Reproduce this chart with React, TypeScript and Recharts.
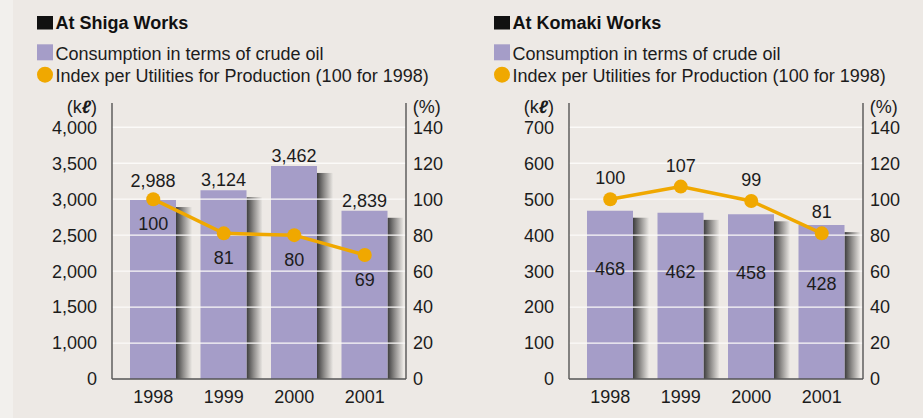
import React from 'react';
import { ComposedChart, Bar, Line, XAxis, YAxis, ReferenceLine, LabelList } from 'recharts';

// ---------- data ----------
const years = ['1998', '1999', '2000', '2001'];
const shigaConsumption = [2988, 3124, 3462, 2839];
const shigaIndex = [100, 81, 80, 69];
const komakiConsumption = [468, 462, 458, 428];
const komakiIndex = [100, 107, 99, 81];

const shigaLeftTicks = [500, 1000, 1500, 2000, 2500, 3000, 3500, 4000];
const shigaLeftTickLabels = ['0', '1,000', '1,500', '2,000', '2,500', '3,000', '3,500', '4,000'];
const komakiLeftTicks = [0, 100, 200, 300, 400, 500, 600, 700];
const komakiLeftTickLabels = ['0', '100', '200', '300', '400', '500', '600', '700'];
const rightTicks = [0, 20, 40, 60, 80, 100, 120, 140];
const rightTickLabels = ['0', '20', '40', '60', '80', '100', '120', '140'];

// ---------- style ----------
const FONT = '"Liberation Sans", Arial, Helvetica, sans-serif';
const BG = '#EDE9E5';
const BAR = '#A59DC8';
const ORANGE = '#F0A800';
const AXIS = '#555555';
const TEXT = '#1c1c1c';
const W = 457;
const H = 418;
const M_TOP = 103;
const X_H = 39;
const PLOT_H = H - M_TOP - X_H;
const RIGHT_MAX = 153.5;

const fmt = (v: number) => v.toLocaleString('en-US');

const makeShadow = (gid: string) => (props: any) => {
  const { x, y, width, height } = props;
  if (!height || height < 8) return <g />;
  return (
    <g>
      <defs>
        <linearGradient id={gid} x1="0" y1="0" x2="1" y2="0">
          <stop offset="0" stopColor="#3c3c3c" />
          <stop offset="0.45" stopColor="#8e8c8a" />
          <stop offset="1" stopColor="#ebe8e4" />
        </linearGradient>
      </defs>
      <rect x={x + width} y={y + 7} width={16} height={height - 7} fill={`url(#${gid})`} />
    </g>
  );
};

// bar value label above bar, lifted when it would collide with the line marker
const makeTopLabel = (lineVals: number[]) => (props: any) => {
  const vb = props.viewBox || props;
  const x = vb.x ?? props.x;
  const y = vb.y ?? props.y;
  const width = vb.width ?? props.width;
  const idx = props.index;
  const pointY = M_TOP + PLOT_H * (1 - lineVals[idx] / RIGHT_MAX);
  let base = y - 4;
  if (Math.abs(pointY - y) < 12) base = Math.min(base, pointY - 12);
  return (
    <text x={x + width / 2} y={base} textAnchor="middle" fontSize={18} fontFamily={FONT} fill={TEXT}>
      {fmt(Number(props.value))}
    </text>
  );
};

type PanelProps = {
  title: string;
  consumption: number[];
  index: number[];
  leftTicks: number[];
  leftTickLabels: string[];
  leftDomain: [number, number];
  gid: string;
  barLabelInside: boolean;
  lineLabelPos: 'top' | 'bottom';
  lineLabelOffset: number;
};

function Panel(p: PanelProps) {
  const data = years.map((y, i) => ({ year: y, consumption: p.consumption[i], index: p.index[i] }));
  const leftFmt = (v: number) => {
    const i = p.leftTicks.indexOf(v);
    return i >= 0 ? p.leftTickLabels[i] : String(v);
  };
  const rightFmt = (v: number) => {
    const i = rightTicks.indexOf(v);
    return i >= 0 ? rightTickLabels[i] : String(v);
  };
  const tickStyle = { fontSize: 18, fontFamily: FONT, fill: TEXT };
  return (
    <div style={{ position: 'absolute', top: 0, width: W, height: H }}>
      <ComposedChart width={W} height={H} data={data} margin={{ top: M_TOP, right: 0, bottom: 0, left: 0 }}>
        <XAxis
          xAxisId="main"
          dataKey="year"
          height={X_H}
          padding={{ left: 6, right: 6 }}
          tickLine={false}
          tickSize={0}
          tickMargin={11.5}
          axisLine={{ stroke: AXIS, strokeWidth: 1.4 }}
          tick={tickStyle}
          interval={0}
        />
        <XAxis xAxisId="shadow" dataKey="year" hide padding={{ left: 6, right: 6 }} />
        <YAxis
          yAxisId="left"
          orientation="left"
          width={112}
          domain={p.leftDomain}
          allowDataOverflow
          ticks={p.leftTicks}
          tickFormatter={leftFmt}
          tickLine={false}
          tickSize={0}
          tickMargin={15}
          axisLine={{ stroke: AXIS, strokeWidth: 1.4 }}
          tick={tickStyle}
          interval={0}
        />
        <YAxis
          yAxisId="right"
          orientation="right"
          width={51}
          domain={[0, RIGHT_MAX]}
          allowDataOverflow
          ticks={rightTicks}
          tickFormatter={rightFmt}
          tickLine={false}
          tickSize={0}
          tickMargin={7}
          axisLine={{ stroke: AXIS, strokeWidth: 1.4 }}
          tick={tickStyle}
          interval={0}
        />
        <Bar
          xAxisId="shadow"
          yAxisId="left"
          dataKey="consumption"
          barSize={46}
          shape={makeShadow(p.gid)}
          isAnimationActive={false}
        />
        {p.leftTicks.slice(1).map((t) => (
          <ReferenceLine
            key={t}
            xAxisId="main"
            yAxisId="left"
            y={t}
            stroke="#FBFAF8"
            strokeWidth={1.3}
          />
        ))}
        <Bar xAxisId="main" yAxisId="left" dataKey="consumption" barSize={46} fill={BAR} isAnimationActive={false}>
          {p.barLabelInside ? (
            <LabelList
              dataKey="consumption"
              position="insideTop"
              offset={52}
              formatter={(v: any) => fmt(Number(v))}
              fill={TEXT}
              fontSize={18}
              fontFamily={FONT}
            />
          ) : (
            <LabelList dataKey="consumption" content={makeTopLabel(p.index)} />
          )}
        </Bar>
        <Line
          xAxisId="main"
          yAxisId="right"
          dataKey="index"
          stroke={ORANGE}
          strokeWidth={3.5}
          dot={{ r: 7, fill: ORANGE, stroke: 'none', strokeWidth: 0 }}
          isAnimationActive={false}
        >
          <LabelList
            dataKey="index"
            position={p.lineLabelPos}
            offset={p.lineLabelOffset}
            fill={TEXT}
            fontSize={18}
            fontFamily={FONT}
          />
        </Line>
      </ComposedChart>
      <svg width={W} height={120} style={{ position: 'absolute', left: 0, top: 0, pointerEvents: 'none' }}>
        <rect x={37} y={16} width={16} height={13.5} fill="#111" />
        <text x={55.5} y={28.5} fontSize={18} fontWeight="bold" fontFamily={FONT} fill="#111">
          {p.title}
        </text>
        <rect x={37} y={44.3} width={16} height={16} fill={BAR} />
        <text x={55.5} y={59.5} fontSize={18} fontFamily={FONT} fill={TEXT}>
          Consumption in terms of crude oil
        </text>
        <circle cx={45} cy={74.7} r={8} fill={ORANGE} />
        <text x={55.5} y={81.7} fontSize={18} fontFamily={FONT} fill={TEXT}>
          Index per Utilities for Production (100 for 1998)
        </text>
        <text x={97} y={113} textAnchor="end" fontSize={18} fontFamily={FONT} fill={TEXT}>
          (k<tspan fontWeight="bold" fontStyle="italic">ℓ</tspan>)
        </text>
        <text x={412.7} y={113} fontSize={18} fontFamily={FONT} fill={TEXT}>
          (%)
        </text>
      </svg>
    </div>
  );
}

export default function App() {
  return (
    <div style={{ position: 'absolute', left: 0, top: 0, width: 923, height: 418, background: BG, overflow: 'hidden', fontFamily: FONT }}>
      <div style={{ position: 'absolute', left: 0, top: 0, width: 13, height: 418, background: '#F2F0ED' }} />
      <div style={{ position: 'absolute', left: 0, top: 0 }}>
        <Panel
          title="At Shiga Works"
          consumption={shigaConsumption}
          index={shigaIndex}
          leftTicks={shigaLeftTicks}
          leftTickLabels={shigaLeftTickLabels}
          leftDomain={[500, 500 + 25 * RIGHT_MAX]}
          gid="shigaShadow"
          barLabelInside={false}
          lineLabelPos="bottom"
          lineLabelOffset={18}
        />
      </div>
      <div style={{ position: 'absolute', left: 457, top: 0 }}>
        <Panel
          title="At Komaki Works"
          consumption={komakiConsumption}
          index={komakiIndex}
          leftTicks={komakiLeftTicks}
          leftTickLabels={komakiLeftTickLabels}
          leftDomain={[0, 5 * RIGHT_MAX]}
          gid="komakiShadow"
          barLabelInside={true}
          lineLabelPos="top"
          lineLabelOffset={15}
        />
      </div>
    </div>
  );
}
